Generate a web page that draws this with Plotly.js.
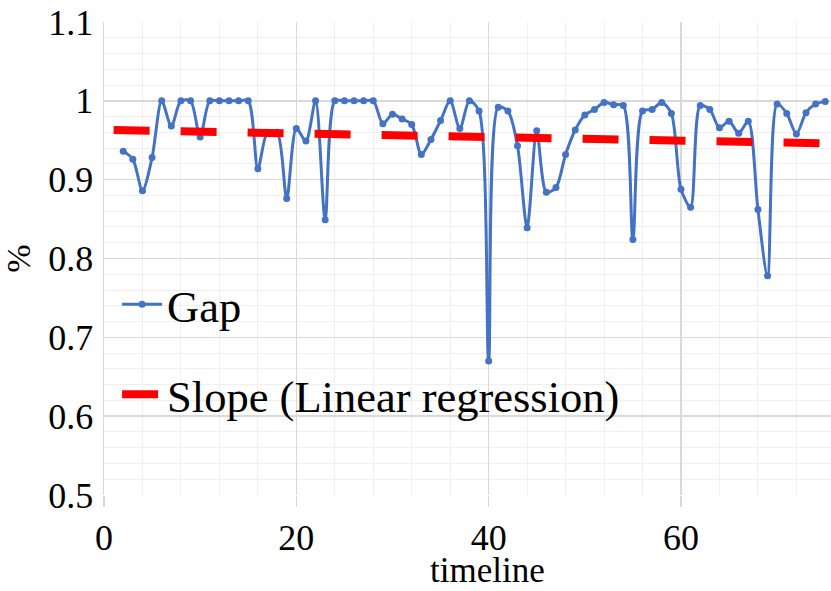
<!DOCTYPE html>
<html>
<head>
<meta charset="utf-8">
<script src="https://cdn.plot.ly/plotly-3.0.1.min.js"></script>
<style>html,body{margin:0;padding:0;background:#fff;}#chart{width:831px;height:591px;}</style>
</head>
<body>
<div id="chart"></div>
<script>
const gapX = [2,3,4,5,6,7,8,9,10,11,12,13,14,15,16,17,18,19,20,21,22,23,24,25,26,27,28,29,30,31,32,33,34,35,36,37,38,39,40,41,42,43,44,45,46,47,48,49,50,51,52,53,54,55,56,57,58,59,60,61,62,63,64,65,66,67,68,69,70,71,72,73,74,75];
const gapY = [0.936,0.926,0.886,0.928,1.0,0.968,1.0,1.0,0.954,1.0,1.0,1.0,1.0,1.0,0.914,0.96,0.96,0.876,0.965,0.949,1.0,0.849,1.0,1.0,1.0,1.0,1.0,0.971,0.983,0.977,0.970,0.932,0.951,0.975,1.0,0.965,1.0,0.987,0.67,0.992,0.987,0.943,0.839,0.962,0.884,0.89,0.932,0.963,0.982,0.989,0.998,0.995,0.994,0.824,0.987,0.989,0.998,0.984,0.888,0.865,0.994,0.989,0.966,0.974,0.959,0.974,0.862,0.778,0.996,0.984,0.958,0.985,0.996,0.999];
const slopeX = [1, 75];
const slopeY = [0.963, 0.946];
const xTickVals = [0, 20, 40, 60];
const yTickVals = [0.5, 0.6, 0.7, 0.8, 0.9, 1.0, 1.1];
const yTickText = ['0.5','0.6','0.7','0.8','0.9','1','1.1'];

const font = 'Liberation Serif, Times New Roman, serif';

const traces = [
  {
    x: gapX, y: gapY, name: 'Gap', type: 'scatter', mode: 'lines+markers',
    line: {color: '#4472C4', width: 3, shape: 'spline', smoothing: 0.8},
    marker: {color: '#4472C4', size: 7},
    legendgroup: 'a'
  },
  {
    x: slopeX, y: slopeY, name: 'Slope (Linear regression)', type: 'scatter', mode: 'lines',
    line: {color: '#FF0000', width: 8, dash: '36px,31px'},
    legendgroup: 'b'
  }
];

const layout = {
  width: 831, height: 591,
  margin: {l: 104, r: 0, t: 22, b: 96},
  paper_bgcolor: '#ffffff', plot_bgcolor: '#ffffff',
  font: {family: font, color: '#000000', size: 36},
  showlegend: true,
  legend: {
    x: 0.018, xanchor: 'left', y: 0.478, yanchor: 'top',
    bgcolor: 'rgba(0,0,0,0)', borderwidth: 0,
    font: {family: font, size: 44.5, color: '#000000'},
    traceorder: 'grouped', tracegroupgap: 29, itemwidth: 40
  },
  xaxis: {
    range: [0, 75.6], tickvals: xTickVals, ticktext: xTickVals.map(String),
    showgrid: true, gridcolor: '#d9d9d9', gridwidth: 1.5,
    minor: {dtick: 4, tick0: 0, showgrid: true, gridcolor: '#efefef', gridwidth: 1},
    ticks: 'outside', ticklen: 11, tickcolor: '#d9d9d9', tickwidth: 1.5,
    showline: false, zeroline: false,
    tickfont: {family: font, size: 36, color: '#000000'}
  },
  yaxis: {
    range: [0.5, 1.1], tickvals: yTickVals, ticktext: yTickText,
    showgrid: true, gridcolor: '#d9d9d9', gridwidth: 1.5,
    minor: {dtick: 0.02, tick0: 0.5, showgrid: true, gridcolor: '#efefef', gridwidth: 1},
    showline: true, linecolor: '#d9d9d9', linewidth: 1.5,
    ticks: '', zeroline: false, ticklabelstandoff: 2,
    tickfont: {family: font, size: 36, color: '#000000'},
    title: {text: '%', font: {family: font, size: 34, color: '#000000'}, standoff: 10}
  },
  annotations: [
    {text: 'timeline', xref: 'paper', yref: 'paper', x: (487 - 104) / 727, y: -0.16,
     xanchor: 'center', yanchor: 'middle', showarrow: false,
     font: {family: font, size: 35, color: '#000000'}}
  ]
};

Plotly.newPlot('chart', traces, layout, {displayModeBar: false, staticPlot: true});
</script>
</body>
</html>
